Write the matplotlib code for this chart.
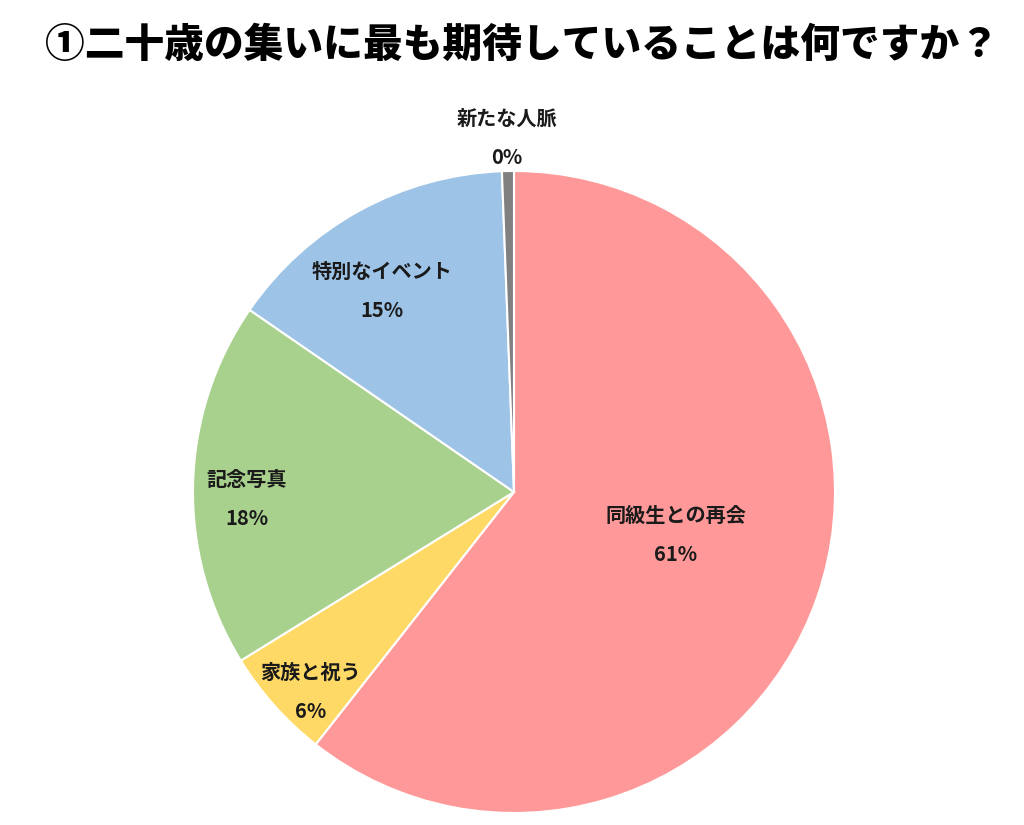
import numpy as np
import matplotlib
matplotlib.use("Agg")
import matplotlib.pyplot as plt

plt.rcParams['font.family'] = ['Noto Sans CJK JP', 'DejaVu Sans']

title = "①二十歳の集いに最も期待していることは何ですか？"
categories = ["同級生との再会", "家族と祝う", "記念写真", "特別なイベント", "新たな人脈"]
values = [60.6, 5.6, 18.4, 14.8, 0.6]
pct_labels = ["61%", "6%", "18%", "15%", "0%"]
colors = ["#FF9999", "#FFD966", "#A9D18E", "#9DC3E6", "#808080"]

W, H = 1024, 825
fig = plt.figure(figsize=(W / 100, H / 100), dpi=100)
cx, cy, R = 514, 492, 321
ax = fig.add_axes([(cx - R) / W, (H - cy - R) / H, 2 * R / W, 2 * R / H])
wedges, _ = ax.pie(values, colors=colors, startangle=90, counterclock=False,
                   wedgeprops=dict(edgecolor="white", linewidth=1.5))
ax.set_xlim(-1, 1)
ax.set_ylim(-1, 1)
ax.set_aspect("equal")
ax.axis("off")

# label anchor positions (data-label placement, radius units)
label_pos = [(0.503, -0.134), (-0.634, -0.623), (-0.832, -0.022),
             (-0.411, 0.626), (-0.022, 1.104)]
half_gap = 0.061

for cat, pct, (x, y) in zip(categories, pct_labels, label_pos):
    ax.text(x, y + half_gap, cat, ha="center", va="center", fontsize=14.5,
            fontweight="bold", color="#1a1a1a", clip_on=False)
    ax.text(x, y - half_gap, pct, ha="center", va="center", fontsize=14.5,
            fontweight="bold", color="#1a1a1a", clip_on=False)

fig.text(522 / W, 1 - 45 / H, title, ha="center", va="center", fontsize=28.6,
         fontweight="black", color="black")

fig.savefig("out.png", dpi=100, facecolor="white")
